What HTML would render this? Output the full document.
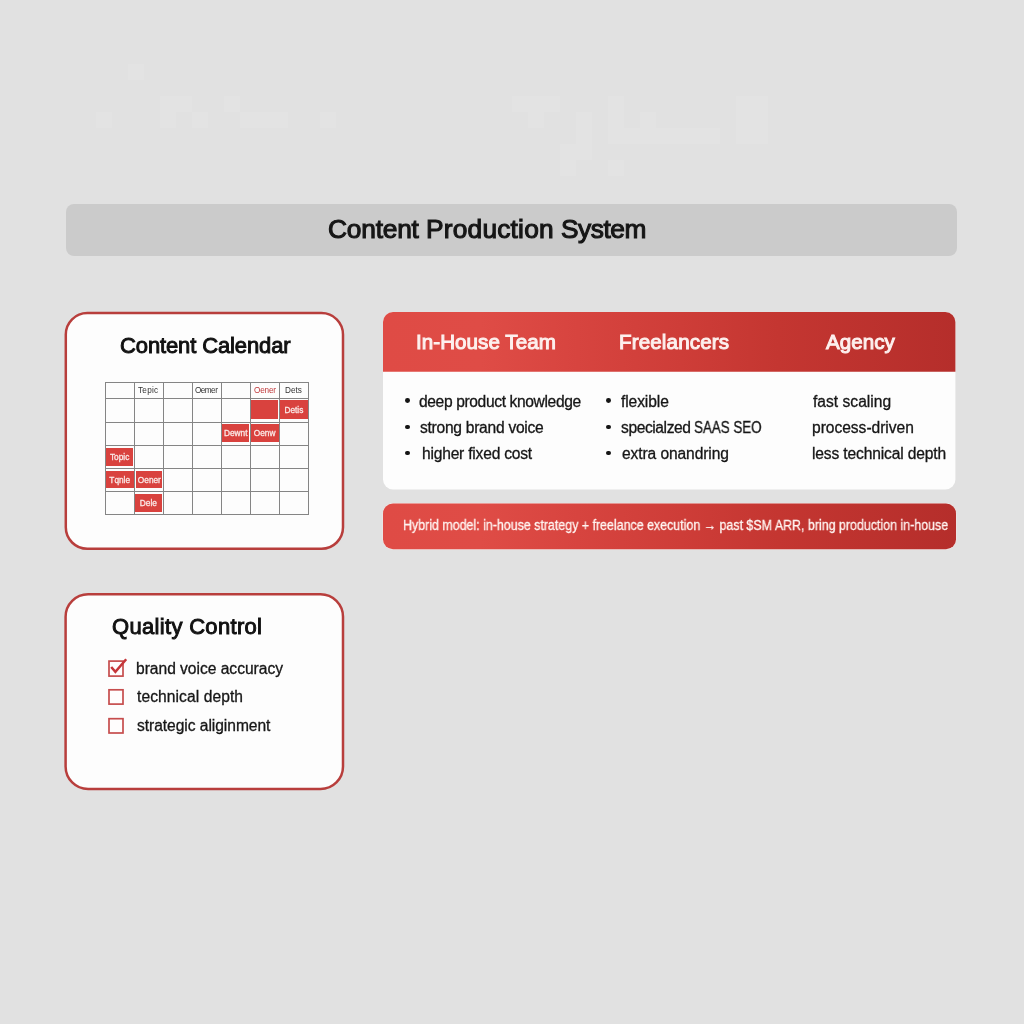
<!DOCTYPE html>
<html lang="en"><head><meta charset="utf-8">
<title>Content Production System</title>
<style>
html,body{margin:0;padding:0}
body{width:1024px;height:1024px;overflow:hidden;position:relative;background:#e1e1e1;
  font-family:"Liberation Sans",Arial,sans-serif;color:#1b1b1b}
h1,h2,h3,ul,li,p,table,thead,tbody,tr,th,td{margin:0;padding:0;font:inherit;list-style:none;border:0}
.abs,.t,svg{position:absolute}
svg{left:0;top:0;overflow:visible}
.t{white-space:nowrap;line-height:1;will-change:transform}
.g{position:absolute;background:#e3e3e3}
.titlebar{left:66px;top:204px;width:891px;height:52px;border-radius:8px;background:#cbcbcb}
.cell{position:absolute;background:#d9423e;color:#fae8e6;font-size:8.3px;line-height:1;text-align:center;
  white-space:nowrap;-webkit-text-stroke:0.3px #fae8e6}
.cell span{position:absolute;text-align:center;will-change:transform}
.bul{position:absolute;width:4.8px;height:4.8px;border-radius:50%;background:#151515}
</style></head><body>
<div aria-hidden="true"><i class="g" style="left:128px;top:64px;width:16px;height:16px"></i><i class="g" style="left:160px;top:96px;width:32px;height:16px"></i><i class="g" style="left:160px;top:112px;width:16px;height:16px"></i><i class="g" style="left:192px;top:112px;width:16px;height:16px"></i><i class="g" style="left:224px;top:96px;width:16px;height:16px"></i><i class="g" style="left:240px;top:112px;width:48px;height:16px"></i><i class="g" style="left:320px;top:112px;width:16px;height:16px"></i><i class="g" style="left:96px;top:112px;width:16px;height:16px"></i><i class="g" style="left:512px;top:96px;width:48px;height:16px"></i><i class="g" style="left:528px;top:112px;width:16px;height:16px"></i><i class="g" style="left:576px;top:112px;width:16px;height:48px"></i><i class="g" style="left:560px;top:144px;width:16px;height:32px"></i><i class="g" style="left:608px;top:96px;width:16px;height:48px"></i><i class="g" style="left:624px;top:128px;width:96px;height:16px"></i><i class="g" style="left:640px;top:112px;width:16px;height:16px"></i><i class="g" style="left:736px;top:96px;width:32px;height:48px"></i><i class="g" style="left:608px;top:160px;width:16px;height:16px"></i></div>
<header>
<div class="abs titlebar"></div>
<h1><span class="t" style="left:328px;top:216px;font-size:26.3px;color:#161616;letter-spacing:-0.2px;-webkit-text-stroke:1.1px #161616">Content</span> <span class="t" style="left:426px;top:216px;font-size:26.3px;color:#161616;letter-spacing:0.21px;-webkit-text-stroke:1.1px #161616">Production</span> <span class="t" style="left:561px;top:216px;font-size:26.3px;color:#161616;letter-spacing:-0.45px;-webkit-text-stroke:1.1px #161616">System</span></h1>
</header>
<main>
<section>
<svg width="1024" height="1024" viewBox="0 0 1024 1024" aria-hidden="true"><rect x="65.8" y="313" width="277.2" height="235.8" rx="21.5" ry="21.5" fill="#fdfdfd" stroke="#b83e3c" stroke-width="2.5"/></svg>
<h2 class="t" style="left:120px;top:335px;font-size:22px;color:#111;letter-spacing:-0.12px;-webkit-text-stroke:0.95px #111">Content Calendar</h2>
<div>
<div class="cell" style="left:250.8px;top:400.3px;width:27.1px;height:19.2px"></div>
<div class="cell" style="left:280.2px;top:400.3px;width:27.8px;height:19.2px"><span style="left:-0.2px;top:5.7px;width:27.8px">Detis</span></div>
<div class="cell" style="left:221.9px;top:424.2px;width:27.5px;height:18.3px"><span style="left:0.1px;top:4.8px;width:27.5px">Dewnt</span></div>
<div class="cell" style="left:251.4px;top:424.2px;width:27.3px;height:18.3px"><span style="left:-0.4px;top:4.8px;width:27.3px">Oenw</span></div>
<div class="cell" style="left:106.2px;top:448px;width:27.2px;height:17.5px"><span style="left:-0.2px;top:5px;width:27.2px">Topic</span></div>
<div class="cell" style="left:106.2px;top:470.8px;width:27.4px;height:17.6px"><span style="left:-0.2px;top:5.2px;width:27.4px">Tqnle</span></div>
<div class="cell" style="left:135.7px;top:470.5px;width:26.7px;height:17.8px"><span style="left:0.3px;top:5.5px;width:26.7px">Oener</span></div>
<div class="cell" style="left:135.3px;top:493.6px;width:26.8px;height:18.1px"><span style="left:-0.3px;top:5.4px;width:26.8px">Dele</span></div>
<svg width="1024" height="1024" viewBox="0 0 1024 1024" aria-hidden="true"><g stroke="#858585" stroke-width="1" fill="none" shape-rendering="crispEdges"><line x1="105" y1="382.5" x2="309" y2="382.5"/><line x1="105" y1="398.5" x2="309" y2="398.5"/><line x1="105" y1="422.5" x2="309" y2="422.5"/><line x1="105" y1="445.5" x2="309" y2="445.5"/><line x1="105" y1="468.5" x2="309" y2="468.5"/><line x1="105" y1="491.5" x2="309" y2="491.5"/><line x1="105" y1="514.5" x2="309" y2="514.5"/><line x1="105.5" y1="382.5" x2="105.5" y2="514.5"/><line x1="134.5" y1="382.5" x2="134.5" y2="514.5"/><line x1="163.5" y1="382.5" x2="163.5" y2="514.5"/><line x1="192.5" y1="382.5" x2="192.5" y2="514.5"/><line x1="221.5" y1="382.5" x2="221.5" y2="514.5"/><line x1="250.5" y1="382.5" x2="250.5" y2="514.5"/><line x1="279.5" y1="382.5" x2="279.5" y2="514.5"/><line x1="308.5" y1="382.5" x2="308.5" y2="514.5"/></g></svg>
<div class="t" style="left:138px;top:387px;font-size:8.2px;color:#333;letter-spacing:0.25px">Tepic</div>
<div class="t" style="left:195px;top:387px;font-size:8.2px;color:#333;letter-spacing:-0.54px">Oemer</div>
<div class="t" style="left:254px;top:387px;font-size:8.2px;color:#c0393b;letter-spacing:-0.19px">Oener</div>
<div class="t" style="left:285px;top:387px;font-size:8.2px;color:#333;letter-spacing:-0.02px">Dets</div>
</div>
</section>
<section>
<svg width="1024" height="1024" viewBox="0 0 1024 1024" aria-hidden="true"><defs><linearGradient id="rg" gradientUnits="userSpaceOnUse" x1="383" y1="0" x2="956" y2="0"><stop offset="0%" stop-color="#df4b45"/><stop offset="17%" stop-color="#df4c46"/><stop offset="34%" stop-color="#d7443f"/><stop offset="52%" stop-color="#ce3d38"/><stop offset="69%" stop-color="#c43631"/><stop offset="100%" stop-color="#b52e2b"/></linearGradient></defs><rect x="383" y="312" width="572.4" height="177.4" rx="10" ry="10" fill="#fdfdfd"/><path d="M383,371.8 V322 a10,10 0 0 1 10,-10 H945.4 a10,10 0 0 1 10,10 V371.8 Z" fill="url(#rg)"/><rect x="383" y="503.5" width="573" height="45.8" rx="10" ry="10" fill="url(#rg)" stroke="#ffeceb" stroke-opacity="0.7" stroke-width="0.9" paint-order="stroke"/></svg>
<h3 class="t" style="left:416px;top:332px;font-size:20.6px;color:#fdf0ee;letter-spacing:0.05px;-webkit-text-stroke:1.0px #fdf0ee">In-House Team</h3>
<h3 class="t" style="left:619px;top:332px;font-size:20.6px;color:#fdf0ee;letter-spacing:0.13px;-webkit-text-stroke:1.0px #fdf0ee">Freelancers</h3>
<h3 class="t" style="left:826px;top:332px;font-size:20.6px;color:#fdf0ee;letter-spacing:0.04px;-webkit-text-stroke:1.0px #fdf0ee">Agency</h3>
<ul>
<li><i class="bul" style="left:405.3px;top:398.2px"></i><span class="t" style="left:419px;top:394px;font-size:15.6px;color:#161616;letter-spacing:-0.37px;-webkit-text-stroke:0.3px #161616">deep product knowledge</span></li>
<li><i class="bul" style="left:405.3px;top:424.6px"></i><span class="t" style="left:420px;top:420px;font-size:15.6px;color:#161616;letter-spacing:-0.27px;-webkit-text-stroke:0.3px #161616">strong brand voice</span></li>
<li><i class="bul" style="left:405.3px;top:450.5px"></i><span class="t" style="left:422px;top:446px;font-size:15.6px;color:#161616;letter-spacing:-0.21px;-webkit-text-stroke:0.3px #161616">higher fixed cost</span></li>
</ul>
<ul>
<li><i class="bul" style="left:605.9px;top:398.2px"></i><span class="t" style="left:621px;top:394px;font-size:15.6px;color:#161616;letter-spacing:-0.1px;-webkit-text-stroke:0.3px #161616">flexible</span></li>
<li><i class="bul" style="left:605.9px;top:424.6px"></i><span class="t" style="left:621px;top:420px;font-size:15.6px;color:#161616;letter-spacing:-0.41px;-webkit-text-stroke:0.3px #161616">specialzed</span> <span class="t" style="left:694px;top:420px;font-size:15.6px;color:#161616;letter-spacing:0px;-webkit-text-stroke:0.3px #161616;transform:scaleX(0.8569);transform-origin:0 0">SAAS SEO</span></li>
<li><i class="bul" style="left:605.9px;top:450.5px"></i><span class="t" style="left:622px;top:446px;font-size:15.6px;color:#161616;letter-spacing:-0.1px;-webkit-text-stroke:0.3px #161616">extra onandring</span></li>
</ul>
<ul>
<li><span class="t" style="left:813px;top:394px;font-size:15.6px;color:#161616;letter-spacing:0.01px;-webkit-text-stroke:0.3px #161616">fast scaling</span></li>
<li><span class="t" style="left:812px;top:420px;font-size:15.6px;color:#161616;letter-spacing:-0.03px;-webkit-text-stroke:0.3px #161616">process-driven</span></li>
<li><span class="t" style="left:812px;top:446px;font-size:15.6px;color:#161616;letter-spacing:-0.15px;-webkit-text-stroke:0.3px #161616">less technical depth</span></li>
</ul>
<p class="t" style="left:403px;top:518px;font-size:14.3px;color:#fff4f1;letter-spacing:0px;-webkit-text-stroke:0.3px #fff4f1;transform:scaleX(0.8688);transform-origin:0 0">Hybrid model: in-house strategy + freelance execution → past $SM ARR, bring production in-house</p>
</section>
<section>
<svg width="1024" height="1024" viewBox="0 0 1024 1024" aria-hidden="true"><rect x="65.6" y="594.2" width="277.4" height="194.7" rx="22.5" ry="22.5" fill="#fdfdfd" stroke="#b83e3c" stroke-width="2.5"/><g fill="#fffdfd" stroke="#c64d4d" stroke-width="1.7"><rect x="109" y="661.1" width="14" height="15"/><rect x="109" y="689.8" width="14" height="14.3"/><rect x="109" y="718.7" width="14" height="14.3"/></g><polyline points="111.2,667.0 115.4,671.9 126.2,659.3" fill="none" stroke="#c5363a" stroke-width="2.5" stroke-linejoin="miter" stroke-linecap="butt"/></svg>
<h2 class="t" style="left:112px;top:616px;font-size:22px;color:#111;letter-spacing:0.32px;-webkit-text-stroke:0.95px #111">Quality Control</h2>
<ul>
<li><span class="t" style="left:136px;top:661px;font-size:15.6px;color:#161616;letter-spacing:-0.02px;-webkit-text-stroke:0.3px #161616">brand voice accuracy</span></li>
<li><span class="t" style="left:137px;top:689px;font-size:15.6px;color:#161616;letter-spacing:0.08px;-webkit-text-stroke:0.3px #161616">technical depth</span></li>
<li><span class="t" style="left:137px;top:718px;font-size:15.6px;color:#161616;letter-spacing:-0.05px;-webkit-text-stroke:0.3px #161616">strategic aliginment</span></li>
</ul>
</section>
</main>
</body></html>
